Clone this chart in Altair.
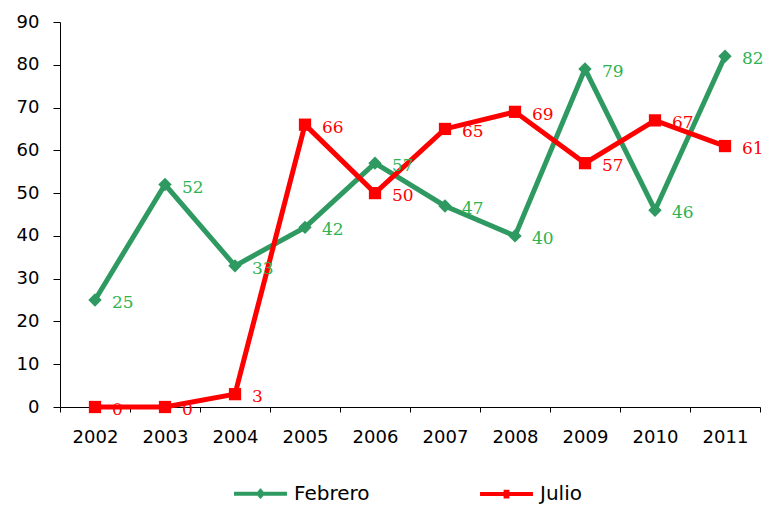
import altair as alt
import pandas as pd

years = ["2002", "2003", "2004", "2005", "2006", "2007", "2008", "2009", "2010", "2011"]
febrero = [25, 52, 33, 42, 57, 47, 40, 79, 46, 82]
julio = [0, 0, 3, 66, 50, 65, 69, 57, 67, 61]
series = ["Febrero", "Julio"]
line_colors = ["#2e9a62", "#ff0000"]
label_colors = ["#2db350", "#ff0000"]
marker_shapes = ["diamond", "square"]
marker_sizes = [180, 150]

rows = []
for y, f, j in zip(years, febrero, julio):
    rows.append({"year": y, "serie": "Febrero", "value": f})
    rows.append({"year": y, "serie": "Julio", "value": j})
df = pd.DataFrame(rows)

x_enc = alt.X("year:O", title=None, bandPosition=0.5,
              scale=alt.Scale(type="band", paddingInner=0, paddingOuter=0),
              axis=alt.Axis(labelAngle=0, tickBand="extent", domainColor="black",
                            tickColor="black", tickSize=5, labelPadding=16,
                            labelFont="DejaVu Sans", labelFontSize=18, labelColor="black",
                            grid=False))
y_enc = alt.Y("value:Q", title=None,
              scale=alt.Scale(domain=[0, 90], nice=False, zero=True),
              axis=alt.Axis(values=list(range(0, 91, 10)), domainColor="black",
                            tickColor="black", tickSize=7, labelPadding=14,
                            labelFont="DejaVu Sans", labelFontSize=18, labelColor="black",
                            grid=False))

base = alt.Chart(df)
layers = []
for s, col in zip(series, line_colors):
    sub = base.transform_filter(alt.datum.serie == s)
    layers.append(sub.mark_line(strokeWidth=5, color=col).encode(x=x_enc, y=y_enc))
for s, col, lcol, shp, sz in zip(series, line_colors, label_colors, marker_shapes, marker_sizes):
    sub = base.transform_filter(alt.datum.serie == s)
    layers.append(sub.mark_point(filled=True, opacity=1, color=col, shape=shp, size=sz)
                  .encode(x=x_enc, y=y_enc))
    layers.append(sub.mark_text(align="left", baseline="middle", dx=17, dy=3,
                                font="DejaVu Serif", fontSize=17, color=lcol)
                  .encode(x=x_enc, y=y_enc, text=alt.Text("value:Q")))

# legend symbols: a line with a marker drawn from stacked strokes
diamond_path = ("M-1,0H1"
                "M-0.03,-0.12H0.03M-0.06,-0.08H0.06M-0.1,-0.04H0.1"
                "M-0.13,0H0.13M-0.1,0.04H0.1M-0.06,0.08H0.06M-0.03,0.12H0.03")
square_path = ("M-1,0H1"
               "M-0.11,-0.09H0.11M-0.11,-0.045H0.11M-0.11,0.045H0.11M-0.11,0.09H0.11")
legend_paths = [diamond_path, square_path]

leg = alt.Legend(title=None, orient="none", legendX=172, legendY=443, direction="horizontal",
                 symbolSize=2800, symbolStrokeWidth=4, symbolOpacity=1,
                 labelFont="DejaVu Sans", labelFontSize=20, labelColor="black",
                 columnPadding=102, labelOffset=5)
layers.append(base.transform_filter("datum.value < 0").mark_point(filled=False, opacity=1).encode(
    x=x_enc, y=y_enc,
    color=alt.Color("serie:N", scale=alt.Scale(domain=series, range=line_colors), legend=leg),
    shape=alt.Shape("serie:N", scale=alt.Scale(domain=series, range=legend_paths), legend=leg),
))

chart = alt.layer(*layers).properties(
    width=700, height=385,
    autosize=alt.AutoSizeParams(type="none"),
    padding={"left": 52, "top": 14, "right": 4, "bottom": 100},
    background="white",
).configure_view(stroke=None, strokeWidth=0)

chart.save("out.html", embed_options={"renderer": "svg", "actions": False})
